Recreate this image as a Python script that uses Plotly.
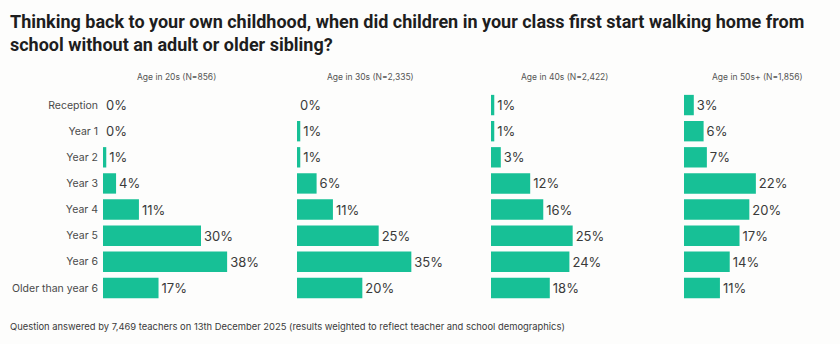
import plotly.graph_objects as go

# Survey data: when children first walked home from school alone, by teacher age group
categories = ["Reception", "Year 1", "Year 2", "Year 3", "Year 4", "Year 5", "Year 6", "Older than year 6"]
group_titles = ["Age in 20s (N=856)", "Age in 30s (N=2,335)", "Age in 40s (N=2,422)", "Age in 50s+ (N=1,856)"]
age_20s = [0, 0, 1, 4, 11, 30, 38, 17]
age_30s = [0, 1, 1, 6, 11, 25, 35, 20]
age_40s = [1, 1, 3, 12, 16, 25, 24, 18]
age_50s = [3, 6, 7, 22, 20, 17, 14, 11]
series = [age_20s, age_30s, age_40s, age_50s]

W, H = 840, 344
BAR = "#17C096"
panel_left_px = [103, 297, 491, 684]
panel_width_px = 147
x_max = 45
y_bottom, y_top = 1 - 301 / H, 1 - 92 / H

fig = go.Figure()
for i, vals in enumerate(series):
    suffix = "" if i == 0 else str(i + 1)
    fig.add_trace(go.Bar(
        y=categories, x=vals, orientation="h",
        xaxis="x" + suffix, yaxis="y" + suffix,
        marker=dict(color=BAR, line=dict(width=0)),
        text=[f"{v}%" for v in vals], textposition="outside",
        textfont=dict(family="Inter", size=13, color="#3a3a3a"),
        cliponaxis=False, showlegend=False, hoverinfo="skip",
    ))
    x0 = panel_left_px[i] / W
    x1 = (panel_left_px[i] + panel_width_px) / W
    fig.update_layout(**{
        "xaxis" + suffix: dict(domain=[x0, x1], range=[0, x_max], visible=False, fixedrange=True),
        "yaxis" + suffix: dict(
            domain=[y_bottom, y_top], anchor="x" + suffix,
            categoryorder="array", categoryarray=categories,
            autorange="reversed", showticklabels=(i == 0),
            showgrid=False, zeroline=False, showline=False, ticks="",
            ticklabelstandoff=4,
            tickfont=dict(family="Inter", size=10.5, color="#4a4a4a"),
        ),
    })
    fig.add_annotation(
        x=(x0 + x1) / 2, y=1 - 77 / H, xref="paper", yref="paper",
        text=group_titles[i], showarrow=False, xanchor="center", yanchor="middle",
        font=dict(family="Inter", size=8.5, color="#555555"),
    )

fig.add_annotation(
    x=8 / W, y=1 - 9 / H, xref="paper", yref="paper", xanchor="left", yanchor="top",
    align="left", showarrow=False,
    text="<b>Thinking back to your own childhood, when did children in your class first start walking home from<br>school without an adult or older sibling?</b>",
    font=dict(family="Roboto", size=18, color="#1e1e1e"),
)
fig.add_annotation(
    x=8 / W, y=1 - 326 / H, xref="paper", yref="paper", xanchor="left", yanchor="middle",
    showarrow=False,
    text="Question answered by 7,469 teachers on 13th December 2025 (results weighted to reflect teacher and school demographics)",
    font=dict(family="Inter", size=9.4, color="#3a3a3a"),
)

fig.update_layout(
    width=W, height=H, margin=dict(l=0, r=0, t=0, b=0),
    paper_bgcolor="#fdfdfc", plot_bgcolor="rgba(0,0,0,0)",
    bargap=0.22,
)
fig.write_html("out.html", config={"displayModeBar": False})
